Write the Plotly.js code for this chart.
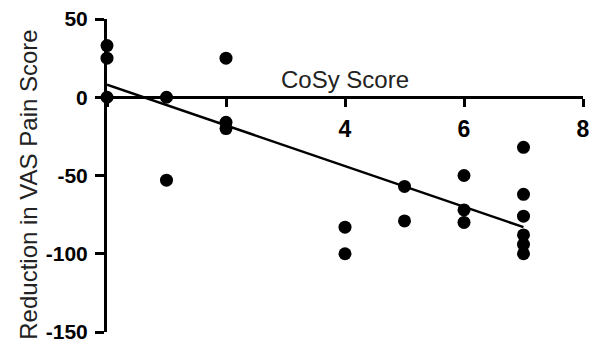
<!DOCTYPE html>
<html>
<head>
<meta charset="utf-8">
<script src="https://cdn.plot.ly/plotly-3.0.1.min.js"></script>
<style>html,body{margin:0;padding:0;background:#fff;}#chart{width:601px;height:346px;}</style>
</head>
<body>
<div id="chart"></div>
<script>
// CoSy score (x) vs reduction in VAS pain score (y)
const cosyScore = [0, 0, 0, 1, 1, 2, 2, 2, 4, 4, 5, 5, 6, 6, 6, 7, 7, 7, 7, 7, 7];
const vasReduction = [33, 25, 0, 0, -53, 25, -16, -20, -83, -100, -57, -79, -50, -72, -80, -32, -62, -76, -88, -94, -100];
// regression line endpoints
const fitX = [0, 7];
const fitY = [8, -83];
const xTickVals = [0, 2, 4, 6, 8];
const xTickText = ['', '', '4', '6', '8'];
const yTickVals = [-150, -100, -50, 0, 50];
const yTickText = ['-150', '-100', '-50', '0', '50'];

const font = 'Arial, "Liberation Sans", sans-serif';

const traces = [
  {
    x: fitX, y: fitY, mode: 'lines', type: 'scatter',
    line: {color: '#000', width: 2.5}, cliponaxis: false, hoverinfo: 'skip'
  },
  {
    x: cosyScore, y: vasReduction, mode: 'markers', type: 'scatter',
    marker: {color: '#000', size: 13}, cliponaxis: false
  }
];

const layout = {
  width: 601, height: 346,
  margin: {l: 107, r: 18, t: 19, b: 14},
  paper_bgcolor: '#fff', plot_bgcolor: '#fff',
  showlegend: false,
  font: {family: font, color: '#000'},
  xaxis: {
    range: [0, 8], anchor: 'free', position: 0.75,
    showgrid: false, zeroline: false,
    showline: true, linecolor: '#000', linewidth: 3,
    ticks: 'outside', ticklen: 8, tickwidth: 3, tickcolor: '#000',
    tickvals: xTickVals, ticktext: xTickText,
    tickfont: {family: font, size: 23, color: '#000', weight: 'bold'},
    ticklabelstandoff: 2, ticklabeloverflow: 'allow'
  },
  yaxis: {
    range: [-150, 50],
    showgrid: false, zeroline: false,
    showline: true, linecolor: '#000', linewidth: 3,
    ticks: 'outside', ticklen: 9, tickwidth: 3, tickcolor: '#000',
    tickvals: yTickVals, ticktext: yTickText,
    tickfont: {family: font, size: 21, color: '#000', weight: 'bold'},
    ticklabelstandoff: 3, ticklabeloverflow: 'allow'
  },
  annotations: [
    {
      text: 'CoSy Score', xref: 'x', yref: 'y', x: 4, y: 0,
      xanchor: 'center', yanchor: 'bottom', yshift: 2, showarrow: false,
      font: {family: font, size: 24, color: '#222'}
    },
    {
      text: 'Reduction in VAS Pain Score', xref: 'paper', yref: 'paper',
      x: -0.165, y: 0.472, xanchor: 'center', yanchor: 'middle',
      textangle: -90, showarrow: false,
      font: {family: font, size: 24, color: '#222'}
    }
  ]
};

Plotly.newPlot('chart', traces, layout, {displayModeBar: false, staticPlot: true});
</script>
</body>
</html>
